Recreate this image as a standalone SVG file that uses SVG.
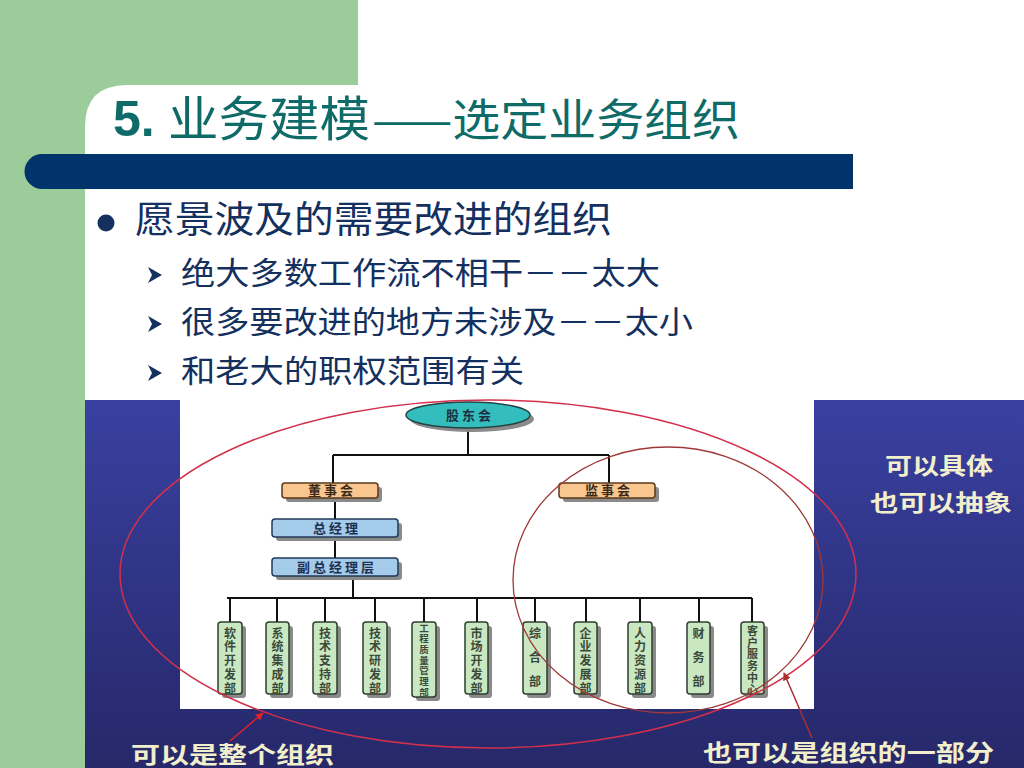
<svg xmlns="http://www.w3.org/2000/svg" width="1024" height="768" viewBox="0 0 1024 768">
  <defs>
    <linearGradient id="panelGrad" x1="0" y1="0" x2="0" y2="1">
      <stop offset="0" stop-color="#3a40a0"/>
      <stop offset="1" stop-color="#262869"/>
    </linearGradient>
    <marker id="arrRed" viewBox="0 0 10 10" refX="9" refY="5" markerWidth="8" markerHeight="8" orient="auto" markerUnits="userSpaceOnUse">
      <path d="M0,0 L10,5 L0,10 Z" fill="#e0202a"/>
    </marker>
    <marker id="arrBrown" viewBox="0 0 10 10" refX="9" refY="5" markerWidth="8" markerHeight="8" orient="auto" markerUnits="userSpaceOnUse">
      <path d="M0,0 L10,5 L0,10 Z" fill="#a83030"/>
    </marker>
  </defs>
  <style>
    .title5 { font-family: "Liberation Sans", Arial, sans-serif; font-weight: bold; fill: #0e6b68; }
    .titlecjk { font-family: "Noto Sans CJK SC", "Liberation Sans", sans-serif; fill: #0e6b68; }
    .body { font-family: "Noto Sans CJK SC", sans-serif; fill: #14305e; }
    .lbl { font-family: "Noto Sans CJK SC", sans-serif; font-weight: bold; fill: #f2f0cc; }
    .line { stroke: #111; stroke-width: 2; fill: none; }
    .shadow { fill: #8a8a8a; }
    .top { fill: #33bdbd; stroke: #224444; stroke-width: 1.5; }
    .orange { fill: #f9c690; stroke: #5a3a1a; stroke-width: 1.5; }
    .blue { fill: #a4cbea; stroke: #223a5a; stroke-width: 1.5; }
    .green { fill: #c9e7c1; stroke: #2e3e2e; stroke-width: 1.5; }
    .ntext { font-family: "Noto Sans CJK SC", sans-serif; font-weight: bold; font-size: 13px; text-anchor: middle; letter-spacing: 3px; }
    .dtext { font-family: "Noto Sans CJK SC", sans-serif; font-weight: bold; font-size: 12px; text-anchor: middle; fill: #3a4a3a; }
    .small7 { font-size: 9.5px; }
    .small6 { font-size: 11px; }
  </style>

  <!-- background -->
  <rect x="0" y="0" width="1024" height="768" fill="#ffffff"/>
  <rect x="0" y="0" width="358" height="768" fill="#9dcc9b"/>
  <path d="M85,768 V127 Q85,85 127,85 H358 V768 Z" fill="#ffffff"/>
  <path d="M42,154 H853 V189 H42 A17.5,17.5 0 0 1 42,154 Z" fill="#00346a"/>

  <!-- title -->
  <text class="title5" x="113" y="136" font-size="50">5.</text>
  <text class="titlecjk" x="168" y="136" font-size="48" textLength="202" lengthAdjust="spacingAndGlyphs">业务建模</text>
  <text class="titlecjk" x="372" y="136" font-size="44" textLength="368" lengthAdjust="spacingAndGlyphs">——选定业务组织</text>

  <!-- bullets -->
  <circle cx="106" cy="223" r="8.5" fill="#14305e"/>
  <text class="body" x="135" y="233" font-size="37" textLength="477" lengthAdjust="spacingAndGlyphs">愿景波及的需要改进的组织</text>
  <polygon points="148,267 162,275 148,283 152,275" fill="#14305e"/>
  <text class="body" x="181" y="284" font-size="31" textLength="479" lengthAdjust="spacingAndGlyphs">绝大多数工作流不相干－－太大</text>
  <polygon points="148,316 162,324 148,332 152,324" fill="#14305e"/>
  <text class="body" x="181" y="333" font-size="31" textLength="512" lengthAdjust="spacingAndGlyphs">很多要改进的地方未涉及－－太小</text>
  <polygon points="148,365 162,373 148,381 152,373" fill="#14305e"/>
  <text class="body" x="181" y="382" font-size="31" textLength="343" lengthAdjust="spacingAndGlyphs">和老大的职权范围有关</text>

  <!-- panel -->
  <rect x="85" y="400" width="939" height="368" fill="url(#panelGrad)"/>
  <rect x="180" y="400" width="634" height="309" fill="#ffffff"/>

  <!-- connectors -->
  <g id="connectors">
    <path class="line" d="M468,428 V455 M333,455 H609 M333,455 V483 M609,455 V483"/>
    <path class="line" d="M335,498 V519 M335,537 V558 M353,576 V598"/>
    <path class="line" d="M227,598 H752"/>
    <path class="line" d="M230,598 V622 M277,598 V622 M325,598 V622 M375,598 V622 M424,598 V622 M477,598 V622 M535,598 V622 M586,598 V622 M640,598 V622 M699,598 V622 M752,598 V622"/>
  </g>

  <!-- top nodes -->
  <g id="n-gudonghui">
    <ellipse class="shadow" cx="472" cy="419" rx="62" ry="13"/>
    <ellipse class="top" cx="468" cy="415" rx="62" ry="13"/>
    <text class="ntext" x="470" y="420" fill="#1e2e3e">股东会</text>
  </g>
  <g id="n-dongshihui">
    <rect class="shadow" x="286" y="487" width="96" height="15" rx="3"/>
    <rect class="orange" x="282" y="483" width="96" height="15" rx="3"/>
    <text class="ntext" x="332" y="495" fill="#3a2a1a">董事会</text>
  </g>
  <g id="n-jianshihui">
    <rect class="shadow" x="563" y="487" width="96" height="15" rx="3"/>
    <rect class="orange" x="559" y="483" width="96" height="15" rx="3"/>
    <text class="ntext" x="609" y="495" fill="#3a2a1a">监事会</text>
  </g>
  <g id="n-zongjingli">
    <rect class="shadow" x="276" y="523" width="126" height="18" rx="3"/>
    <rect class="blue" x="272" y="519" width="126" height="18" rx="3"/>
    <text class="ntext" x="337" y="533" fill="#1e3050">总经理</text>
  </g>
  <g id="n-fuzong">
    <rect class="shadow" x="276" y="562" width="126" height="18" rx="3"/>
    <rect class="blue" x="272" y="558" width="126" height="18" rx="3"/>
    <text class="ntext" x="337" y="572" fill="#1e3050">副总经理层</text>
  </g>

  <!-- departments -->
  <g id="d1">
    <rect class="shadow" x="222" y="626" width="24" height="72" rx="3"/>
    <rect class="green" x="218" y="622" width="24" height="72" rx="3"/>
    <text class="dtext" x="230" y="637.5">软</text><text class="dtext" x="230" y="651.25">件</text><text class="dtext" x="230" y="665">开</text><text class="dtext" x="230" y="678.75">发</text><text class="dtext" x="230" y="692.5">部</text>
  </g>
  <g id="d2">
    <rect class="shadow" x="270" y="626" width="23" height="72" rx="3"/>
    <rect class="green" x="266" y="622" width="23" height="72" rx="3"/>
    <text class="dtext" x="277.5" y="637.5">系</text><text class="dtext" x="277.5" y="651.25">统</text><text class="dtext" x="277.5" y="665">集</text><text class="dtext" x="277.5" y="678.75">成</text><text class="dtext" x="277.5" y="692.5">部</text>
  </g>
  <g id="d3">
    <rect class="shadow" x="317" y="626" width="24" height="72" rx="3"/>
    <rect class="green" x="313" y="622" width="24" height="72" rx="3"/>
    <text class="dtext" x="325" y="637.5">技</text><text class="dtext" x="325" y="651.25">术</text><text class="dtext" x="325" y="665">支</text><text class="dtext" x="325" y="678.75">持</text><text class="dtext" x="325" y="692.5">部</text>
  </g>
  <g id="d4">
    <rect class="shadow" x="367" y="626" width="24" height="72" rx="3"/>
    <rect class="green" x="363" y="622" width="24" height="72" rx="3"/>
    <text class="dtext" x="375" y="637.5">技</text><text class="dtext" x="375" y="651.25">术</text><text class="dtext" x="375" y="665">研</text><text class="dtext" x="375" y="678.75">发</text><text class="dtext" x="375" y="692.5">部</text>
  </g>
  <g id="d5">
    <rect class="shadow" x="416" y="626" width="24" height="75" rx="3"/>
    <rect class="green" x="412" y="622" width="24" height="75" rx="3"/>
    <text class="dtext small7" x="424" y="631.5">工</text><text class="dtext small7" x="424" y="642.2">程</text><text class="dtext small7" x="424" y="652.9">质</text><text class="dtext small7" x="424" y="663.6">量</text><text class="dtext small7" x="424" y="674.3">管</text><text class="dtext small7" x="424" y="685">理</text><text class="dtext small7" x="424" y="695.7">部</text>
  </g>
  <g id="d6">
    <rect class="shadow" x="469" y="626" width="23" height="72" rx="3"/>
    <rect class="green" x="465" y="622" width="23" height="72" rx="3"/>
    <text class="dtext" x="476.5" y="637.5">市</text><text class="dtext" x="476.5" y="651.25">场</text><text class="dtext" x="476.5" y="665">开</text><text class="dtext" x="476.5" y="678.75">发</text><text class="dtext" x="476.5" y="692.5">部</text>
  </g>
  <g id="d7">
    <rect class="shadow" x="527" y="626" width="24" height="72" rx="3"/>
    <rect class="green" x="523" y="622" width="24" height="72" rx="3"/>
    <text class="dtext" x="535" y="637.5">综</text><text class="dtext" x="535" y="662">合</text><text class="dtext" x="535" y="686">部</text>
  </g>
  <g id="d8">
    <rect class="shadow" x="578" y="626" width="23" height="72" rx="3"/>
    <rect class="green" x="574" y="622" width="23" height="72" rx="3"/>
    <text class="dtext" x="585.5" y="637.5">企</text><text class="dtext" x="585.5" y="651.25">业</text><text class="dtext" x="585.5" y="665">发</text><text class="dtext" x="585.5" y="678.75">展</text><text class="dtext" x="585.5" y="692.5">部</text>
  </g>
  <g id="d9">
    <rect class="shadow" x="632" y="626" width="24" height="72" rx="3"/>
    <rect class="green" x="628" y="622" width="24" height="72" rx="3"/>
    <text class="dtext" x="640" y="637.5">人</text><text class="dtext" x="640" y="651.25">力</text><text class="dtext" x="640" y="665">资</text><text class="dtext" x="640" y="678.75">源</text><text class="dtext" x="640" y="692.5">部</text>
  </g>
  <g id="d10">
    <rect class="shadow" x="691" y="626" width="23" height="72" rx="3"/>
    <rect class="green" x="687" y="622" width="23" height="72" rx="3"/>
    <text class="dtext" x="698.5" y="637.5">财</text><text class="dtext" x="698.5" y="662">务</text><text class="dtext" x="698.5" y="686">部</text>
  </g>
  <g id="d11">
    <rect class="shadow" x="745" y="626" width="23" height="72" rx="3"/>
    <rect class="green" x="741" y="622" width="23" height="72" rx="3"/>
    <text class="dtext small6" x="752.5" y="635">客</text><text class="dtext small6" x="752.5" y="646.7">户</text><text class="dtext small6" x="752.5" y="658.4">服</text><text class="dtext small6" x="752.5" y="670.1">务</text><text class="dtext small6" x="752.5" y="681.8">中</text><text class="dtext small6" x="752.5" y="693.5">心</text>
  </g>

  <!-- scope ellipses and arrows -->
  <g id="scope">
    <ellipse cx="488" cy="574" rx="368" ry="174" fill="none" stroke="#d2304c" stroke-width="1.5"/>
    <ellipse cx="668" cy="580" rx="155" ry="133" fill="none" stroke="#a03838" stroke-width="1.3"/>
    <line x1="230" y1="741" x2="263" y2="713" stroke="#e0202a" stroke-width="1.5" marker-end="url(#arrRed)"/>
    <line x1="812" y1="738" x2="784" y2="673" stroke="#a83030" stroke-width="1.5" marker-end="url(#arrBrown)"/>
  </g>

  <!-- labels -->
  <text class="lbl" x="885" y="474" font-size="23" textLength="108" lengthAdjust="spacingAndGlyphs">可以具体</text>
  <text class="lbl" x="870" y="511" font-size="23" textLength="142" lengthAdjust="spacingAndGlyphs">也可以抽象</text>
  <text class="lbl" x="131" y="763" font-size="23" textLength="203" lengthAdjust="spacingAndGlyphs">可以是整个组织</text>
  <text class="lbl" x="703" y="761" font-size="23" textLength="291" lengthAdjust="spacingAndGlyphs">也可以是组织的一部分</text>
</svg>
